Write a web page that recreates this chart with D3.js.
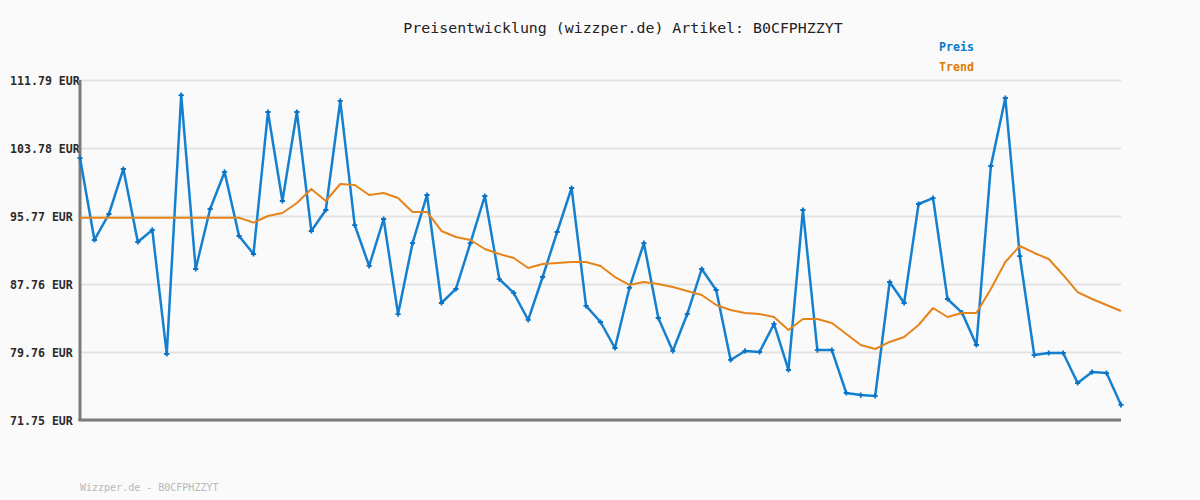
<!DOCTYPE html>
<html>
<head>
<meta charset="utf-8">
<script src="https://cdn.jsdelivr.net/npm/d3@7"></script>
<style>
  html, body { margin: 0; padding: 0; background: #fafafa; }
  svg { display: block; }
</style>
</head>
<body>
<svg id="chart" width="1200" height="500"></svg>
<script>
const titleText = "Preisentwicklung (wizzper.de) Artikel: B0CFPHZZYT";
const footerText = "Wizzper.de - B0CFPHZZYT";
const seriesNames = ["Preis", "Trend"];
const yTicks = [71.75, 79.76, 87.76, 95.77, 103.78, 111.79];

const preis = [
  102.60, 92.95, 96.01, 101.31, 92.71, 94.13, 79.52, 110.02, 89.53, 96.60,
  100.96, 93.42, 91.30, 108.02, 97.54, 108.02, 94.01, 96.48, 109.32, 94.71,
  89.89, 95.42, 84.23, 92.59, 98.25, 85.53, 87.18, 92.59, 98.13, 88.35,
  86.71, 83.53, 88.59, 93.89, 99.07, 85.18, 83.29, 80.23, 87.30, 92.59,
  83.76, 79.88, 84.23, 89.53, 87.06, 78.82, 79.88, 79.76, 83.06, 77.64,
  96.48, 79.99, 79.99, 74.93, 74.69, 74.58, 88.00, 85.53, 97.19, 97.89,
  86.00, 84.40, 80.58, 101.66, 109.67, 91.06, 79.40, 79.64, 79.64, 76.11,
  77.40, 77.28, 73.52
];

const trend = [
  95.57, 95.57, 95.57, 95.57, 95.57, 95.57, 95.57, 95.57, 95.57, 95.57,
  95.57, 95.57, 94.99, 95.77, 96.13, 97.30, 98.95, 97.54, 99.54, 99.42,
  98.25, 98.48, 97.89, 96.25, 96.25, 94.01, 93.30, 92.95, 91.89, 91.30,
  90.83, 89.65, 90.12, 90.24, 90.36, 90.36, 89.89, 88.59, 87.65, 88.00,
  87.77, 87.41, 86.94, 86.47, 85.29, 84.70, 84.35, 84.23, 83.88, 82.35,
  83.64, 83.64, 83.17, 81.88, 80.58, 80.11, 80.94, 81.52, 82.94, 84.94,
  83.88, 84.35, 84.35, 87.18, 90.36, 92.24, 91.42, 90.71, 88.83, 86.82,
  86.00, 85.29, 84.59
];

const colors = { Preis: "#1580d0", Trend: "#e5841a" };
const legendColors = { Preis: "#0a78c8", Trend: "#dd7a00" };

const svg = d3.select("#chart");
const mLeft = 80, mRight = 1121, mTop = 80, mBottom = 420;

svg.append("rect").attr("width", 1200).attr("height", 500).attr("fill", "#fafafa");

const x = d3.scaleLinear().domain([0, preis.length - 1]).range([mLeft, mRight]);
const y = d3.scaleLinear().domain([yTicks[0], yTicks[yTicks.length - 1]]).range([mBottom, mTop]);

const yAxis = d3.axisLeft(y)
  .tickValues(yTicks)
  .tickSize(-(mRight - mLeft))
  .tickFormat(d => d.toFixed(2) + " EUR");

const gy = svg.append("g").attr("transform", `translate(${mLeft},0)`).call(yAxis);
gy.select(".domain").remove();
gy.selectAll(".tick line").attr("stroke", "#e3e3e3").attr("stroke-width", 2);
gy.selectAll(".tick text")
  .attr("x", 10 - mLeft)
  .attr("text-anchor", "start")
  .attr("dy", "0.35em")
  .attr("fill", "#2a2a2a")
  .style("font-family", "'DejaVu Sans Mono', monospace")
  .style("font-size", "11.6px")
  .style("font-weight", "bold");

svg.append("line").attr("x1", mLeft).attr("x2", mLeft).attr("y1", mTop).attr("y2", mBottom + 1)
  .attr("stroke", "#7a7a7a").attr("stroke-width", 3);
svg.append("line").attr("x1", mLeft - 1.5).attr("x2", mRight).attr("y1", mBottom).attr("y2", mBottom)
  .attr("stroke", "#7a7a7a").attr("stroke-width", 3);

const line = d3.line().x((d, i) => x(i)).y(d => y(d));

svg.append("path").datum(preis)
  .attr("d", line).attr("fill", "none")
  .attr("stroke", colors.Preis).attr("stroke-width", 2.5)
  .attr("stroke-linejoin", "round");

svg.append("g").selectAll("path.m").data(preis).join("path")
  .attr("class", "m")
  .attr("d", (d, i) => {
    const cx = x(i), cy = y(d), s = 2.6;
    return `M${cx - s},${cy}L${cx + s},${cy}M${cx},${cy - s}L${cx},${cy + s}`;
  })
  .attr("stroke", "#0a72c4").attr("stroke-width", 1.8);

svg.append("path").datum(trend)
  .attr("d", line).attr("fill", "none")
  .attr("stroke", colors.Trend).attr("stroke-width", 2)
  .attr("stroke-linejoin", "round");

svg.append("text").attr("x", 623).attr("y", 33).attr("text-anchor", "middle")
  .attr("fill", "#222")
  .style("font-family", "'DejaVu Sans Mono', monospace")
  .style("font-size", "14.9px")
  .style("font-weight", "500")
  .text(titleText);

seriesNames.forEach((n, i) => {
  svg.append("text").attr("x", 939).attr("y", 51 + i * 20)
    .attr("fill", legendColors[n])
    .style("font-family", "'DejaVu Sans Mono', monospace")
    .style("font-size", "11.6px")
    .style("font-weight", "bold")
    .text(n);
});

svg.append("text").attr("x", 80).attr("y", 491)
  .attr("fill", "#b8b8b8")
  .style("font-family", "'DejaVu Sans Mono', monospace")
  .style("font-size", "10px")
  .text(footerText);
</script>
</body>
</html>
